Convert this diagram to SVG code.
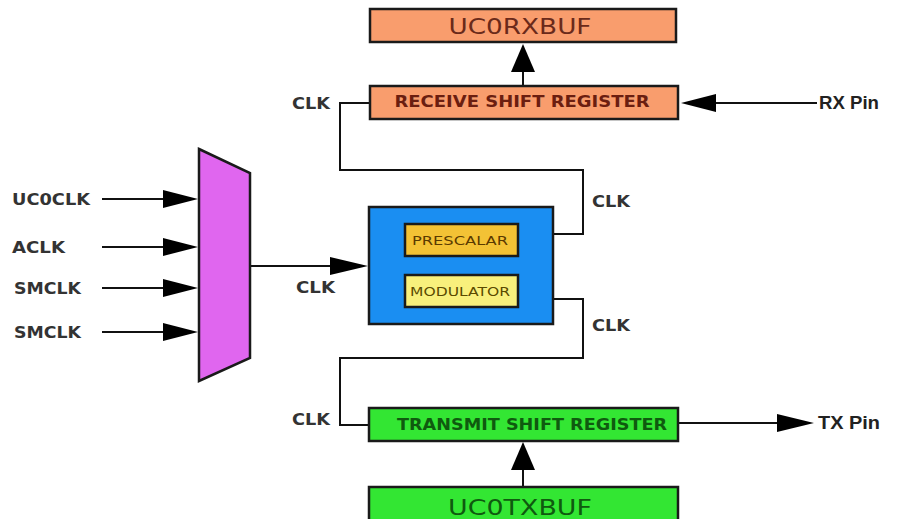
<svg xmlns="http://www.w3.org/2000/svg" width="898" height="519" viewBox="0 0 898 519">
<style>
.box{stroke:#1a1a1a;stroke-width:2.5}
.wire{fill:none;stroke:#111;stroke-width:2}
.head{fill:#000}
.lbl{font-family:"DejaVu Sans","Liberation Sans",sans-serif;font-weight:bold;font-size:15px;fill:#333}
.pin{font-family:"Liberation Sans","DejaVu Sans",sans-serif;font-weight:bold;font-size:18px;fill:#222}
.big{font-family:"DejaVu Sans","Liberation Sans",sans-serif;font-size:22px;text-anchor:middle}
.reg{font-family:"DejaVu Sans","Liberation Sans",sans-serif;font-weight:bold;font-size:15px;text-anchor:middle}
.small{font-family:"DejaVu Sans","Liberation Sans",sans-serif;font-size:13px;text-anchor:middle}
</style>
<rect width="898" height="519" fill="#fff"/>

<g id="connectors">
  <!-- mux inputs -->
  <line class="wire" x1="102" y1="199" x2="168" y2="199"/>
  <polygon class="head" points="163,190 198,199 163,208"/>
  <line class="wire" x1="102" y1="247" x2="168" y2="247"/>
  <polygon class="head" points="163,238 198,247 163,256"/>
  <line class="wire" x1="102" y1="288" x2="168" y2="288"/>
  <polygon class="head" points="163,279 198,288 163,297"/>
  <line class="wire" x1="102" y1="332" x2="168" y2="332"/>
  <polygon class="head" points="163,323 198,332 163,341"/>
  <!-- mux out -->
  <line class="wire" x1="250" y1="266" x2="335" y2="266"/>
  <polygon class="head" points="330,257 368,266 330,275"/>
  <!-- receive clk -->
  <path class="wire" d="M370,103 H340 V170 H583 V234 H553"/>
  <!-- transmit clk -->
  <path class="wire" d="M553,299 H583 V358 H340 V425 H369"/>
  <!-- RSR to RXBUF -->
  <line class="wire" x1="523" y1="86" x2="523" y2="68"/>
  <polygon class="head" points="523,44 511,72 535,72"/>
  <!-- RX pin -->
  <line class="wire" x1="712" y1="103" x2="817" y2="103"/>
  <polygon class="head" points="681,103 716,94 716,112"/>
  <!-- TXBUF to TSR -->
  <line class="wire" x1="523" y1="487" x2="523" y2="466"/>
  <polygon class="head" points="523,442 511,470 535,470"/>
  <!-- TX pin -->
  <line class="wire" x1="678" y1="423" x2="782" y2="423"/>
  <polygon class="head" points="777,414 814,423 777,432"/>
</g>

<g id="labels">
  <text class="lbl" x="12" y="205" textLength="78" lengthAdjust="spacingAndGlyphs">UC0CLK</text>
  <text class="lbl" x="12" y="253" textLength="53" lengthAdjust="spacingAndGlyphs">ACLK</text>
  <text class="lbl" x="14" y="294" textLength="67" lengthAdjust="spacingAndGlyphs">SMCLK</text>
  <text class="lbl" x="14" y="338" textLength="67" lengthAdjust="spacingAndGlyphs">SMCLK</text>
  <text class="lbl" x="296" y="293" textLength="39" lengthAdjust="spacingAndGlyphs">CLK</text>
  <text class="lbl" x="292" y="109" textLength="38" lengthAdjust="spacingAndGlyphs">CLK</text>
  <text class="lbl" x="592" y="207" textLength="38" lengthAdjust="spacingAndGlyphs">CLK</text>
  <text class="lbl" x="592" y="331" textLength="38" lengthAdjust="spacingAndGlyphs">CLK</text>
  <text class="lbl" x="292" y="425" textLength="38" lengthAdjust="spacingAndGlyphs">CLK</text>
  <text class="pin" x="819" y="109" textLength="60" lengthAdjust="spacingAndGlyphs">RX Pin</text>
  <text class="pin" x="818" y="429" textLength="62" lengthAdjust="spacingAndGlyphs">TX Pin</text>
</g>

<g id="mux">
  <polygon points="199,149 250,173 250,358 199,381" fill="#e066ef" stroke="#1a1a1a" stroke-width="2.5"/>
</g>

<g id="uc0rxbuf">
  <rect class="box" x="370" y="9" width="306" height="33" fill="#f99d6d"/>
  <text class="big" x="520" y="34" fill="#6a2a1a" textLength="143" lengthAdjust="spacingAndGlyphs">UC0RXBUF</text>
</g>

<g id="receive-shift-register">
  <rect class="box" x="370" y="86" width="308" height="33" fill="#f99d6d"/>
  <text class="reg" x="522" y="107" fill="#6b1e10" textLength="255" lengthAdjust="spacingAndGlyphs">RECEIVE SHIFT REGISTER</text>
</g>

<g id="baud-generator">
  <rect class="box" x="369" y="207" width="184" height="117" fill="#1a8ef2"/>
</g>

<g id="prescalar">
  <rect class="box" x="405" y="224" width="113" height="32" fill="#f3c235"/>
  <text class="small" x="460" y="245" fill="#5a3a00" textLength="96" lengthAdjust="spacingAndGlyphs">PRESCALAR</text>
</g>

<g id="modulator">
  <rect class="box" x="405" y="275" width="113" height="32" fill="#f8f07c"/>
  <text class="small" x="460" y="296" fill="#5a4a00" textLength="100" lengthAdjust="spacingAndGlyphs">MODULATOR</text>
</g>

<g id="transmit-shift-register">
  <rect class="box" x="369" y="408" width="309" height="33" fill="#33e633"/>
  <text class="reg" x="532" y="430" fill="#0f5a0f" textLength="270" lengthAdjust="spacingAndGlyphs">TRANSMIT SHIFT REGISTER</text>
</g>

<g id="uc0txbuf">
  <rect class="box" x="369" y="487" width="309" height="40" fill="#33e633"/>
  <text class="big" x="520" y="515" fill="#0f5a0f" textLength="144" lengthAdjust="spacingAndGlyphs">UC0TXBUF</text>
</g>
</svg>
